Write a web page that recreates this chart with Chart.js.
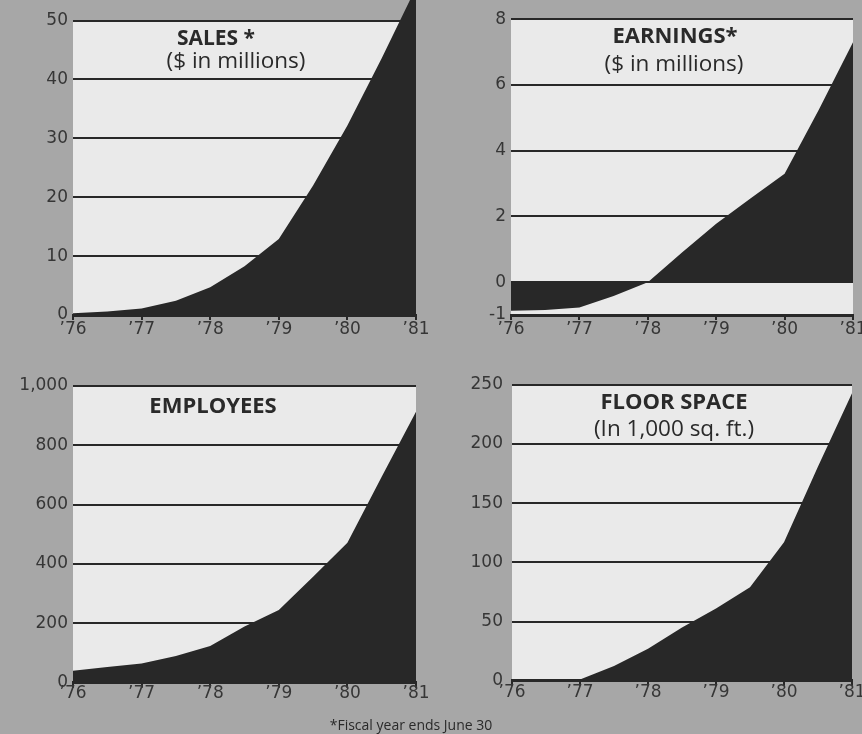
<!DOCTYPE html>
<html>
<head>
<meta charset="utf-8">
<script src="https://cdn.jsdelivr.net/npm/chart.js@4.4.1/dist/chart.umd.min.js"></script>
<style>
  body { margin: 0; width: 862px; height: 734px; overflow: hidden; position: relative;
         background: #a7a7a7; font-family: "Open Sans", sans-serif; color: #2a2a2a; }
  canvas { position: absolute; }
  .t { position: absolute; transform: translate(-50%, -50%); white-space: nowrap; line-height: 1; }
  .b { font-weight: 700; font-size: 22px; }
  .s { font-size: 22.5px; }
  .foot { font-size: 14px; }
</style>
</head>
<body>
<canvas id="sales" width="431" height="350" style="left:0;top:0"></canvas>
<canvas id="earnings" width="431" height="350" style="left:431px;top:0"></canvas>
<canvas id="employees" width="431" height="374" style="left:0;top:360px"></canvas>
<canvas id="floor" width="431" height="374" style="left:431px;top:360px"></canvas>

<div class="t b" style="left:216px;top:37px;font-size:21px">SALES *</div>
<div class="t s" style="left:236px;top:60px">($ in millions)</div>
<div class="t b" style="left:675px;top:34px">EARNINGS*</div>
<div class="t s" style="left:674px;top:63px">($ in millions)</div>
<div class="t b" style="left:213px;top:404px">EMPLOYEES</div>
<div class="t b" style="left:674px;top:400px">FLOOR SPACE</div>
<div class="t s" style="left:674px;top:428px">(In 1,000 sq. ft.)</div>
<div class="t foot" style="left:411px;top:725px">*Fiscal year ends June 30</div>

<script>
'use strict';
// half-year sample points
const years = [1976, 1976.5, 1977, 1977.5, 1978, 1978.5, 1979, 1979.5, 1980, 1980.5, 1981];
const yearTicks = [1976, 1977, 1978, 1979, 1980, 1981];
const yearLabels = ['’76', '’77', '’78', '’79', '’80', '’81'];

const sales = [0.3, 0.6, 1.1, 2.4, 4.7, 8.3, 12.9, 22.0, 32.2, 43.6, 55.6];
const salesTicks = [0, 10, 20, 30, 40, 50];

const earnings = [-0.87, -0.85, -0.77, -0.42, 0, 0.9, 1.78, 2.55, 3.3, 5.25, 7.3];
const earningsTicks = [-1, 0, 2, 4, 6, 8];

const employees = [40, 53, 65, 90, 124, 189, 245, 357, 472, 694, 913];
const employeesTicks = [0, 200, 400, 600, 800, 1000];

const floorSpace = [0, 0, 1, 12.5, 27, 45, 61, 79, 117, 181, 243];
const floorTicks = [0, 50, 100, 150, 200, 250];

const INK = '#282828';
const PAPER = '#eaeaea';
const TICK_FONT = { family: 'DejaVu Sans', size: 17 };

// white panel from the top gridline down to the bottom of the plot
const panelBg = {
  id: 'panelBg',
  beforeDraw(chart) {
    const a = chart.chartArea;
    const y = chart.scales.y;
    const top = y.getPixelForValue(y.ticks[y.ticks.length - 1].value);
    const ctx = chart.ctx;
    ctx.save();
    ctx.fillStyle = PAPER;
    ctx.fillRect(a.left, top, a.right - a.left, a.bottom - top);
    ctx.restore();
  }
};

function makeChart(id, values, yTicks, yMin, yMax, box) {
  const cv = document.getElementById(id);
  const W = cv.width, H = cv.height;
  return new Chart(cv, {
    type: 'line',
    data: {
      datasets: [{
        data: years.map((x, i) => ({ x: x, y: values[i] })),
        fill: 'origin',
        backgroundColor: INK,
        borderWidth: 0,
        pointRadius: 0,
        tension: 0
      }]
    },
    options: {
      responsive: false,
      animation: false,
      layout: { padding: { left: 0, top: 0, bottom: 0, right: W - box.right } },
      plugins: { legend: { display: false }, tooltip: { enabled: false } },
      scales: {
        x: {
          type: 'linear', min: 1976, max: 1981, offset: false,
          afterBuildTicks: s => { s.ticks = yearTicks.map(v => ({ value: v })); },
          afterFit: s => { s.height = H - box.bottom; s.paddingLeft = 0; s.paddingRight = 0; },
          grid: { drawOnChartArea: false, drawTicks: true, tickLength: 5, lineWidth: 2, color: INK },
          border: { display: true, color: INK, width: 3 },
          ticks: {
            padding: box.xPad, maxRotation: 0, autoSkip: false,
            color: '#363636', font: TICK_FONT,
            callback: v => yearLabels[yearTicks.indexOf(v)]
          }
        },
        y: {
          min: yMin, max: yMax,
          afterBuildTicks: s => { s.ticks = yTicks.map(v => ({ value: v })); },
          afterFit: s => { s.width = box.left; s.paddingTop = 0; s.paddingBottom = 0; },
          grid: { drawTicks: false, lineWidth: 2, color: INK },
          border: { display: false },
          ticks: {
            padding: box.yPad, color: '#363636', font: TICK_FONT,
            callback: v => v.toLocaleString('en-US')
          }
        }
      }
    },
    plugins: [panelBg]
  });
}

makeChart('sales', sales, salesTicks, 0, 53.5, { left: 73, right: 416, bottom: 315, xPad: -1, yPad: 5 });
makeChart('earnings', earnings, earningsTicks, -1, 8.59, { left: 80, right: 422, bottom: 315, xPad: -1, yPad: 5 });
makeChart('employees', employees, employeesTicks, 0, 1087.6, { left: 73, right: 416, bottom: 322.7, xPad: -4, yPad: 5 });
makeChart('floor', floorSpace, floorTicks, 0, 271, { left: 81, right: 421, bottom: 320.7, xPad: -3, yPad: 9 });
</script>
</body>
</html>
